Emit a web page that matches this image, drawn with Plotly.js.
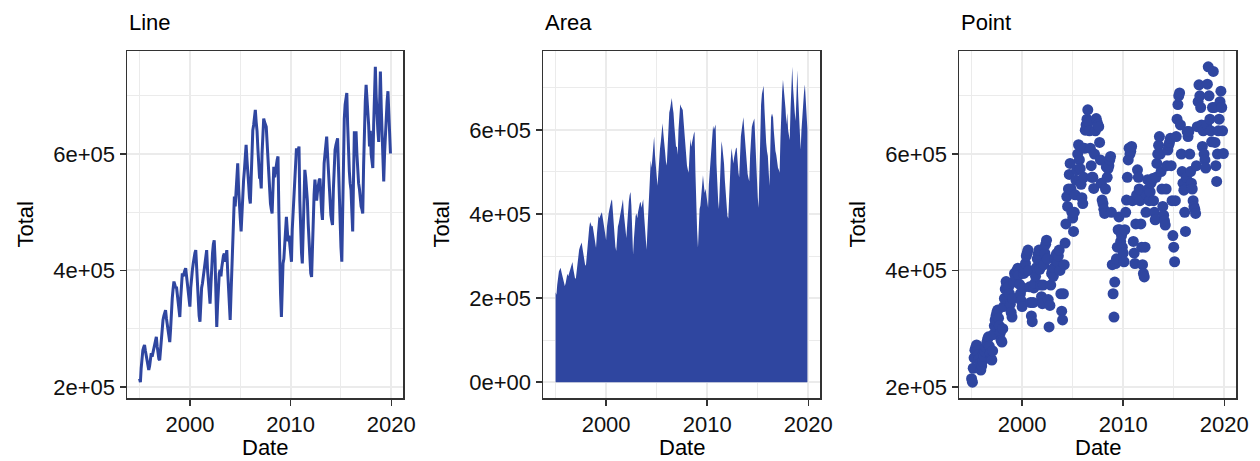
<!DOCTYPE html>
<html>
<head>
<meta charset="utf-8">
<script src="https://cdn.plot.ly/plotly-3.0.1.min.js"></script>
<style>
  html, body { margin: 0; padding: 0; background: #ffffff; }
  #chart { width: 1260px; height: 461px; }
</style>
</head>
<body>
<div id="chart"></div>
<script>
// Monthly totals, January 1995 to December 2019 (one row per year, Jan..Dec)
const firstYear = 1995;
const total = [
  214000, 208000, 232000, 250000, 263000, 268000, 272000, 262000, 255000, 248000, 240000, 229000, // 1995
  236000, 244000, 258000, 252000, 260000, 268000, 276000, 282000, 286000, 270000, 258000, 248000, // 1996
  246000, 262000, 290000, 305000, 315000, 322000, 328000, 332000, 318000, 305000, 292000, 280000, // 1997
  277000, 300000, 338000, 352000, 368000, 381000, 376000, 370000, 372000, 360000, 342000, 328000, // 1998
  320000, 352000, 380000, 395000, 390000, 398000, 400000, 404000, 392000, 376000, 360000, 348000, // 1999
  338000, 370000, 395000, 401000, 412000, 425000, 430000, 435000, 400000, 372000, 345000, 322000, // 2000
  312000, 345000, 370000, 378000, 390000, 405000, 420000, 428000, 435000, 402000, 375000, 355000, // 2001
  343000, 375000, 410000, 430000, 445000, 452000, 420000, 350000, 303000, 340000, 375000, 395000, // 2002
  401000, 390000, 405000, 418000, 425000, 429000, 415000, 425000, 435000, 400000, 360000, 330000, // 2003
  315000, 360000, 410000, 447000, 480000, 527000, 510000, 540000, 565000, 584000, 540000, 500000, // 2004
  490000, 467000, 500000, 530000, 555000, 573000, 600000, 616000, 590000, 575000, 548000, 525000, // 2005
  515000, 560000, 610000, 641000, 650000, 660000, 676000, 655000, 640000, 610000, 580000, 560000, // 2006
  560000, 541000, 600000, 640000, 661000, 655000, 650000, 647000, 620000, 590000, 550000, 521000, // 2007
  515000, 505000, 498000, 540000, 578000, 560000, 575000, 580000, 590000, 596000, 500000, 410000, // 2008
  360000, 320000, 380000, 412000, 420000, 440000, 470000, 492000, 470000, 450000, 460000, 440000, // 2009
  430000, 415000, 470000, 500000, 521000, 560000, 590000, 610000, 600000, 605000, 613000, 520000, // 2010
  450000, 430000, 412000, 480000, 530000, 573000, 560000, 540000, 520000, 480000, 440000, 410000, // 2011
  395000, 389000, 440000, 500000, 530000, 556000, 540000, 520000, 535000, 550000, 555000, 558000, // 2012
  520000, 500000, 487000, 560000, 584000, 600000, 615000, 630000, 600000, 570000, 540000, 510000, // 2013
  495000, 485000, 478000, 540000, 580000, 607000, 615000, 620000, 627000, 580000, 520000, 460000, // 2014
  440000, 415000, 520000, 630000, 660000, 685000, 700000, 705000, 650000, 600000, 570000, 550000, // 2015
  538000, 500000, 467000, 560000, 639000, 630000, 639000, 600000, 570000, 550000, 540000, 520000, // 2016
  510000, 505000, 498000, 580000, 647000, 690000, 719000, 700000, 680000, 650000, 613000, 640000, // 2017
  600000, 590000, 576000, 650000, 720000, 750000, 700000, 660000, 640000, 621000, 680000, 742000, // 2018
  680000, 620000, 580000, 553000, 600000, 640000, 660000, 690000, 708000, 680000, 640000, 601000  // 2019
];

const panelTitles = ['Line', 'Area', 'Point'];
const xTitle = 'Date';
const yTitle = 'Total';
const yTickValsShort = [200000, 400000, 600000];
const yTickTextShort = ['2e+05', '4e+05', '6e+05'];
const yTickValsArea = [0, 200000, 400000, 600000];
const yTickTextArea = ['0e+00', '2e+05', '4e+05', '6e+05'];

// First-of-month dates for every value
const dates = total.map((_, i) => {
  const y = firstYear + Math.floor(i / 12);
  const m = (i % 12) + 1;
  return y + '-' + String(m).padStart(2, '0') + '-01';
});

const W = 1260, H = 461;
const blue = '#2F46A0';
const ink = '#111111';
const font = 'Liberation Sans, Arial, sans-serif';
const fs = 22;

// Panel rectangles in pixels
const panels = [
  { l: 127, r: 403 },
  { l: 543, r: 820 },
  { l: 959, r: 1236 }
];
const plotTop = 51, plotBottom = 398;

function fmtDate(ms) {
  return new Date(ms).toISOString().replace('T', ' ').replace('Z', '');
}

// 5% padding on both sides of the data ranges
const t0 = Date.parse(dates[0] + 'T00:00:00Z');
const t1 = Date.parse(dates[dates.length - 1] + 'T00:00:00Z');
const xpad = (t1 - t0) * 0.05;
const xRange = [fmtDate(t0 - xpad), fmtDate(t1 + xpad)];

const vmin = Math.min(...total), vmax = Math.max(...total);
const ypad = (vmax - vmin) * 0.05;
const yRange = [vmin - ypad, vmax + ypad];
const yRangeArea = [0 - vmax * 0.05, vmax * 1.05];

const traces = [
  { type: 'scatter', mode: 'lines', x: dates, y: total, xaxis: 'x', yaxis: 'y',
    line: { color: blue, width: 3 }, hoverinfo: 'skip' },
  { type: 'scatter', mode: 'lines', x: dates, y: total, xaxis: 'x2', yaxis: 'y2',
    fill: 'tozeroy', fillcolor: blue, line: { color: blue, width: 0 }, hoverinfo: 'skip' },
  { type: 'scatter', mode: 'markers', x: dates, y: total, xaxis: 'x3', yaxis: 'y3',
    marker: { color: blue, size: 11, line: { width: 0 } }, hoverinfo: 'skip' }
];

function xAxis(p, anchor) {
  return {
    type: 'date',
    domain: [p.l / W, p.r / W],
    anchor: anchor,
    range: xRange,
    tick0: '2000-01-01',
    dtick: 'M120',
    tickformat: '%Y',
    ticks: 'outside', ticklen: 6, tickwidth: 1.5, tickcolor: '#333333',
    tickfont: { family: font, size: fs, color: ink },
    showgrid: true, gridcolor: '#EBEBEB', gridwidth: 2,
    minor: { tick0: '1995-01-01', dtick: 'M120', showgrid: true, gridcolor: '#EBEBEB', gridwidth: 1, ticks: '' },
    showline: true, linecolor: '#333333', linewidth: 1.5, mirror: true,
    zeroline: false, fixedrange: true
  };
}

function yAxis(anchor, range, vals, text) {
  return {
    domain: [(H - plotBottom) / H, (H - plotTop) / H],
    anchor: anchor,
    range: range,
    tickmode: 'array', tickvals: vals, ticktext: text,
    ticks: 'outside', ticklen: 6, tickwidth: 1.5, tickcolor: '#333333',
    tickfont: { family: font, size: fs, color: ink },
    showgrid: true, gridcolor: '#EBEBEB', gridwidth: 2,
    minor: { tickmode: 'array', tickvals: vals.map(v => v + 100000), showgrid: true, gridcolor: '#EBEBEB', gridwidth: 1, ticks: '' },
    showline: true, linecolor: '#333333', linewidth: 1.5, mirror: true,
    zeroline: false, fixedrange: true
  };
}

const annotations = [];
const yTitleX = [25, 441, 857];
panels.forEach((p, i) => {
  annotations.push({
    text: panelTitles[i], xref: 'paper', yref: 'paper',
    x: p.l / W, y: (H - 22) / H, xanchor: 'left', yanchor: 'middle',
    showarrow: false, font: { family: font, size: fs, color: '#000' }
  });
  annotations.push({
    text: xTitle, xref: 'paper', yref: 'paper',
    x: (p.l + p.r) / 2 / W, y: (H - 447) / H, xanchor: 'center', yanchor: 'middle',
    showarrow: false, borderpad: 0, font: { family: font, size: fs, color: '#000' }
  });
  annotations.push({
    text: yTitle, xref: 'paper', yref: 'paper', textangle: -90,
    x: yTitleX[i] / W, y: (H - (plotTop + plotBottom) / 2) / H, xanchor: 'center', yanchor: 'middle',
    showarrow: false, font: { family: font, size: fs, color: '#000' }
  });
});

const layout = {
  width: W, height: H, autosize: false,
  margin: { l: 0, r: 0, t: 0, b: 0 },
  paper_bgcolor: '#ffffff', plot_bgcolor: '#ffffff',
  showlegend: false,
  xaxis: xAxis(panels[0], 'y'),
  xaxis2: xAxis(panels[1], 'y2'),
  xaxis3: xAxis(panels[2], 'y3'),
  yaxis: yAxis('x', yRange, yTickValsShort, yTickTextShort),
  yaxis2: yAxis('x2', yRangeArea, yTickValsArea, yTickTextArea),
  yaxis3: yAxis('x3', yRange, yTickValsShort, yTickTextShort),
  annotations: annotations
};

Plotly.newPlot('chart', traces, layout, { displayModeBar: false, staticPlot: true });
</script>
</body>
</html>
